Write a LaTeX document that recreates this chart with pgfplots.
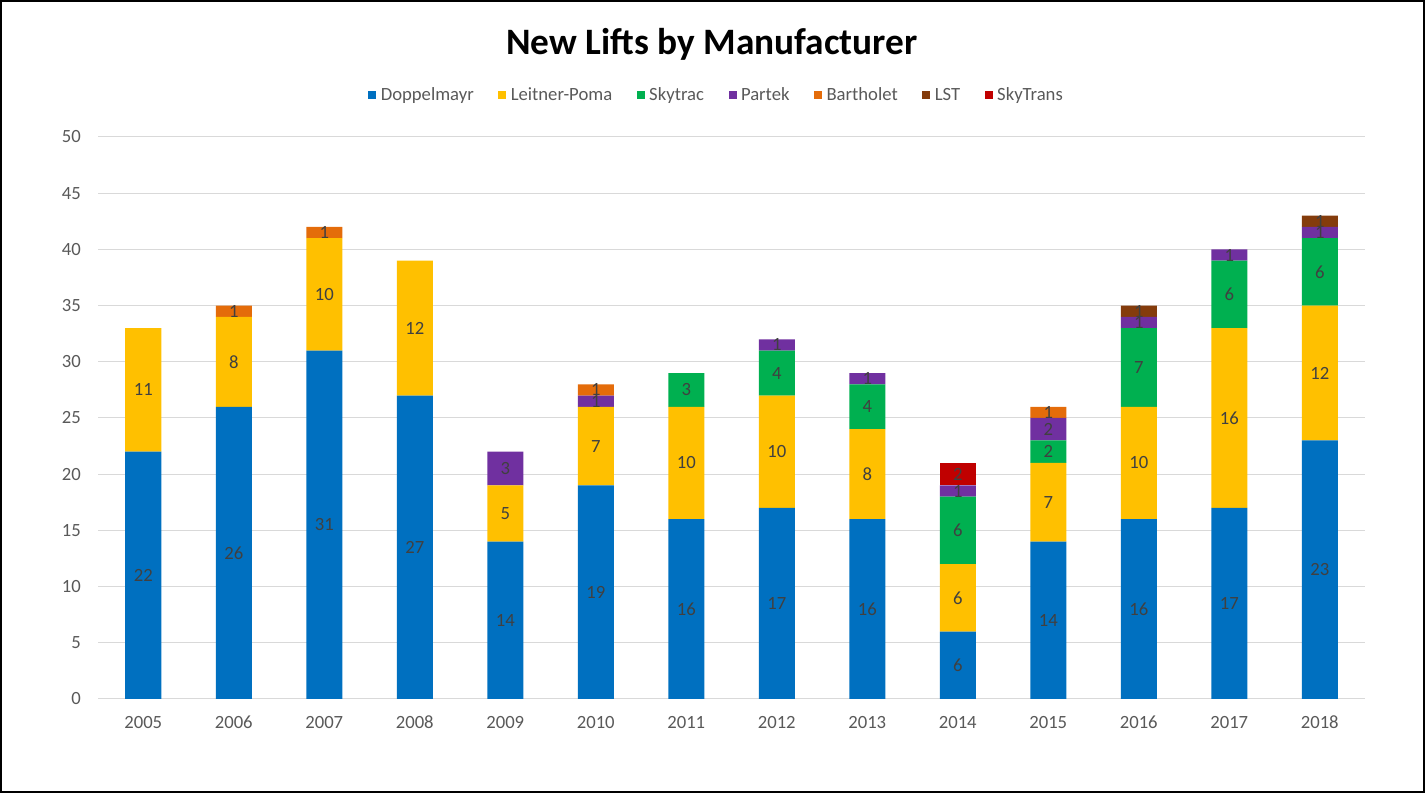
\documentclass[border=0pt]{standalone}
\usepackage{pgfplots}
\pgfplotsset{compat=1.18}
\usepackage{pgfplotstable}
\usepackage{fontspec}
\setmainfont{Carlito}
\definecolor{cD}{HTML}{0070C0}
\definecolor{cLP}{HTML}{FFC000}
\definecolor{cS}{HTML}{00B050}
\definecolor{cP}{HTML}{7030A0}
\definecolor{cB}{HTML}{E46C0A}
\definecolor{cL}{HTML}{843C0C}
\definecolor{cST}{HTML}{C00000}
\definecolor{cGrid}{HTML}{D9D9D9}
\definecolor{cTick}{HTML}{595959}
\definecolor{cLab}{HTML}{404040}
\newcommand{\fs}{\fontsize{18.67bp}{22bp}\selectfont}
\pgfplotstableread{
x D LP S P B L ST
0 22 11 0 0 0 0 0
1 26 8 0 0 1 0 0
2 31 10 0 0 1 0 0
3 27 12 0 0 0 0 0
4 14 5 0 3 0 0 0
5 19 7 0 1 1 0 0
6 16 10 3 0 0 0 0
7 17 10 4 1 0 0 0
8 16 8 4 1 0 0 0
9 6 6 6 1 0 0 2
10 14 7 2 2 1 0 0
11 16 10 7 1 0 1 0
12 17 16 6 1 0 0 0
13 23 12 6 1 0 1 0
}\data
\pgfplotsset{
  mylegend/.style={legend image code/.code={\fill[##1] (0bp,-4bp) rectangle (8bp,4bp);}},
}
\begin{document}
\begin{tikzpicture}
\draw[line width=2bp] (1bp,1bp) rectangle (1424bp,792bp);
\begin{axis}[
  at={(98bp,94bp)}, anchor=south west,
  scale only axis, width=1267bp, height=562bp,
  ybar stacked, bar width=36bp,
  xmin=-0.5, xmax=13.5, ymin=0, ymax=50,
  ytick={0,5,...,50},
  xtick={0,...,13},
  xticklabels={2005,2006,2007,2008,2009,2010,2011,2012,2013,2014,2015,2016,2017,2018},
  major tick length=0pt,
  axis line style={draw=none},
  ymajorgrids, grid style={line width=1bp, draw=cGrid},
  /pgf/number format/assume math mode=true,
  ticklabel style={font=\fs, text=cTick},
  yticklabel style={inner sep=0pt, anchor=east, xshift=-17bp},
  xticklabel style={inner sep=0pt, anchor=north, yshift=-17bp},
  title={New Lifts by Manufacturer},
  title style={font=\bfseries\fontsize{37.3bp}{40bp}\selectfont, at={(0.4846,1.155)}, anchor=center, text=black},
  legend style={at={(0.488,1.0747)}, anchor=center, draw=none, fill=none, legend columns=-1, font=\fs, text=cTick,
    nodes={inner sep=1.5bp},
    /tikz/every odd column/.append style={column sep=3bp},
    /tikz/every even column/.append style={column sep=23bp}},
  legend cell align=left,
  point meta=explicit,
  nodes near coords={\pgfmathfloatifflags{\pgfplotspointmeta}{0}{}{\pgfmathprintnumber{\pgfplotspointmeta}}},
  every node near coord/.append style={anchor=center, font=\fs, text=cLab, inner sep=0pt},
]
\addplot[fill=cD, draw=none, mylegend] table[x=x, y=D, meta=D] {\data};
\addlegendentry{Doppelmayr}
\addplot[fill=cLP, draw=none, mylegend] table[x=x, y=LP, meta=LP] {\data};
\addlegendentry{Leitner-Poma}
\addplot[fill=cS, draw=none, mylegend] table[x=x, y=S, meta=S] {\data};
\addlegendentry{Skytrac}
\addplot[fill=cP, draw=none, mylegend] table[x=x, y=P, meta=P] {\data};
\addlegendentry{Partek}
\addplot[fill=cB, draw=none, mylegend] table[x=x, y=B, meta=B] {\data};
\addlegendentry{Bartholet}
\addplot[fill=cL, draw=none, mylegend] table[x=x, y=L, meta=L] {\data};
\addlegendentry{LST}
\addplot[fill=cST, draw=none, mylegend] table[x=x, y=ST, meta=ST] {\data};
\addlegendentry{SkyTrans}
\end{axis}
\end{tikzpicture}
\end{document}
